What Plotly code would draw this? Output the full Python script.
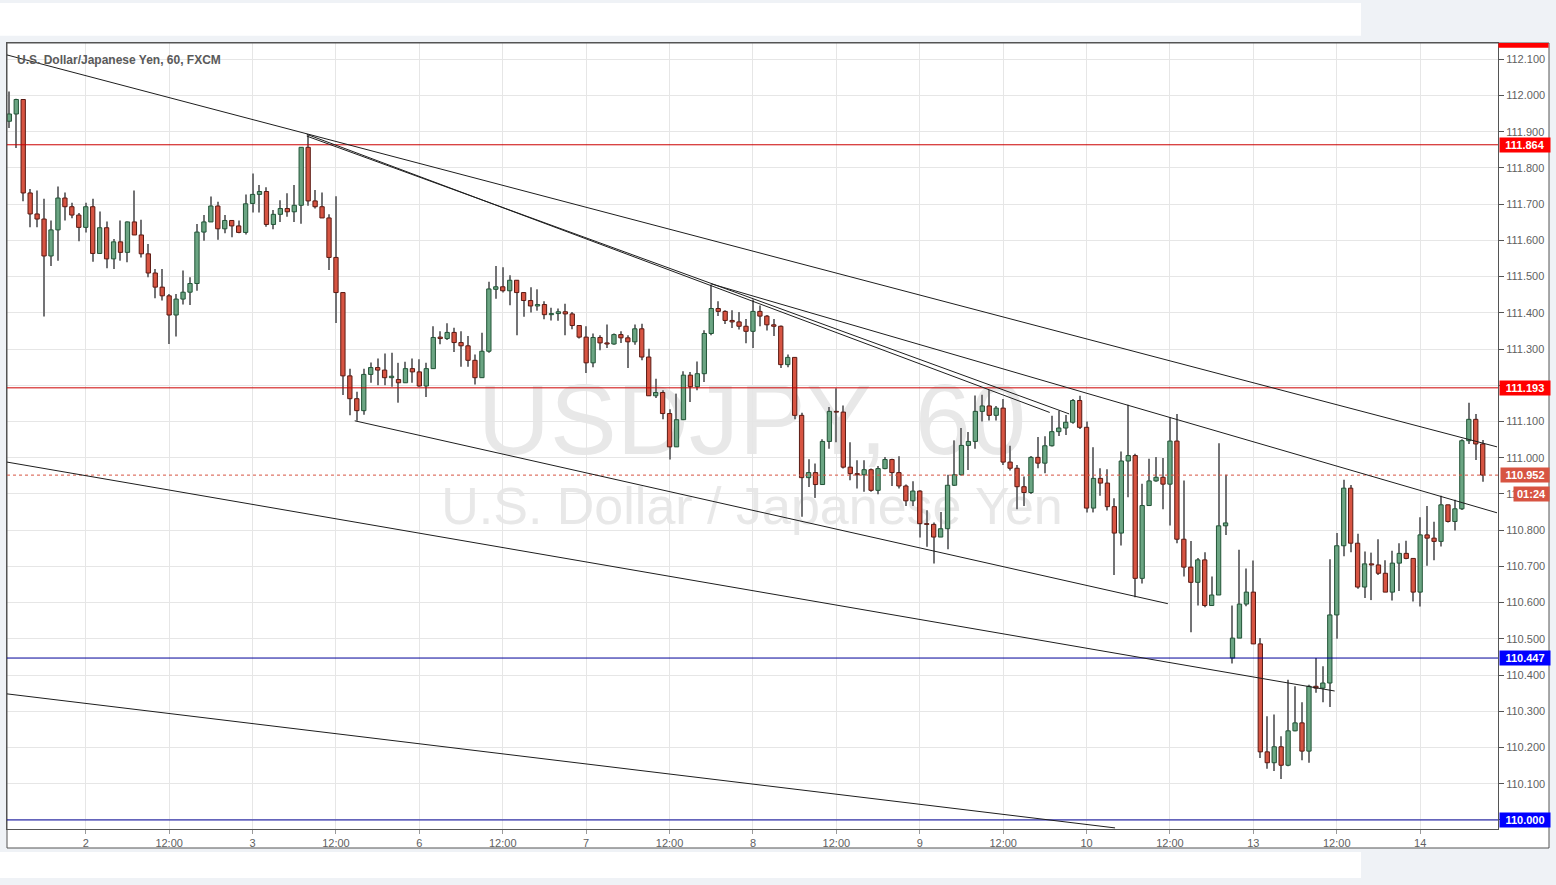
import plotly.graph_objects as go

# ---------------- data (hourly USD/JPY candles) ----------------
candle_open = [
    111.929, 111.949, 111.989, 111.731, 111.673, 111.659, 111.557, 111.629, 111.717, 111.693,
    111.670, 111.636, 111.693, 111.564, 111.635, 111.549, 111.596, 111.567, 111.651, 111.615,
    111.563, 111.510, 111.471, 111.447, 111.394, 111.438, 111.457, 111.481, 111.623, 111.651,
    111.695, 111.632, 111.655, 111.640, 111.622, 111.702, 111.727, 111.735, 111.644, 111.672,
    111.688, 111.679, 111.697, 111.857, 111.709, 111.693, 111.662, 111.553, 111.456, 111.226,
    111.163, 111.130, 111.230, 111.249, 111.242, 111.221, 111.216, 111.207, 111.246, 111.237,
    111.198, 111.246, 111.333, 111.329, 111.346, 111.318, 111.309, 111.269, 111.221, 111.294,
    111.465, 111.472, 111.461, 111.490, 111.456, 111.434, 111.419, 111.423, 111.395, 111.398,
    111.403, 111.397, 111.365, 111.333, 111.262, 111.332, 111.317, 111.314, 111.340, 111.331,
    111.320, 111.356, 111.278, 111.171, 111.180, 111.122, 111.030, 111.105, 111.228, 111.196,
    111.232, 111.343, 111.412, 111.404, 111.379, 111.375, 111.363, 111.349, 111.404, 111.391,
    111.367, 111.363, 111.257, 111.277, 111.117, 110.945, 110.959, 110.926, 111.045, 111.128,
    111.126, 110.974, 110.956, 110.953, 110.967, 110.910, 110.970, 110.995, 110.959, 110.922,
    110.881, 110.908, 110.818, 110.816, 110.781, 110.804, 110.924, 110.953, 111.034, 111.045,
    111.128, 111.143, 111.117, 111.137, 110.988, 110.971, 110.920, 110.904, 111.001, 110.985,
    111.033, 111.072, 111.082, 111.098, 111.158, 111.084, 110.861, 110.943, 110.930, 110.865,
    110.792, 110.991, 111.006, 110.667, 110.868, 110.936, 110.946, 110.927, 111.046, 110.775,
    110.698, 110.656, 110.718, 110.592, 110.621, 110.812, 110.447, 110.502, 110.596, 110.629,
    110.486, 110.188, 110.158, 110.202, 110.151, 110.246, 110.268, 110.190, 110.369, 110.364,
    110.378, 110.566, 110.757, 110.916, 110.764, 110.643, 110.707, 110.704, 110.681, 110.629,
    110.709, 110.736, 110.722, 110.629, 110.787, 110.778, 110.769, 110.870, 110.824, 110.859,
    111.047, 111.106, 111.038,
]
candle_high = [
    112.011, 111.991, 111.989, 111.742, 111.738, 111.715, 111.655, 111.749, 111.732, 111.704,
    111.676, 111.704, 111.715, 111.680, 111.652, 111.604, 111.655, 111.652, 111.738, 111.657,
    111.590, 111.521, 111.521, 111.452, 111.452, 111.517, 111.498, 111.645, 111.670, 111.721,
    111.707, 111.670, 111.655, 111.655, 111.727, 111.785, 111.753, 111.747, 111.684, 111.711,
    111.730, 111.753, 111.857, 111.891, 111.739, 111.732, 111.672, 111.722, 111.456, 111.246,
    111.182, 111.246, 111.263, 111.274, 111.288, 111.290, 111.262, 111.265, 111.274, 111.272,
    111.262, 111.363, 111.349, 111.371, 111.359, 111.349, 111.336, 111.285, 111.345, 111.486,
    111.529, 111.526, 111.504, 111.490, 111.456, 111.471, 111.465, 111.432, 111.414, 111.412,
    111.425, 111.402, 111.366, 111.363, 111.343, 111.338, 111.368, 111.343, 111.349, 111.338,
    111.368, 111.370, 111.301, 111.218, 111.186, 111.134, 111.177, 111.239, 111.237, 111.266,
    111.352, 111.478, 111.432, 111.407, 111.407, 111.402, 111.383, 111.437, 111.420, 111.394,
    111.383, 111.365, 111.285, 111.277, 111.124, 110.996, 110.984, 111.051, 111.140, 111.192,
    111.144, 111.043, 110.993, 110.993, 110.970, 110.977, 111.002, 110.997, 111.004, 110.926,
    110.935, 110.910, 110.855, 110.821, 110.850, 110.953, 111.048, 111.082, 111.071, 111.172,
    111.174, 111.187, 111.143, 111.162, 111.033, 110.980, 110.948, 111.005, 111.057, 111.059,
    111.116, 111.130, 111.118, 111.162, 111.171, 111.100, 111.029, 110.971, 110.968, 110.888,
    111.017, 111.146, 111.011, 110.928, 110.997, 111.002, 110.999, 111.112, 111.121, 110.937,
    110.770, 110.723, 110.739, 110.672, 111.040, 110.953, 110.592, 110.746, 110.694, 110.716,
    110.502, 110.286, 110.291, 110.231, 110.387, 110.369, 110.325, 110.373, 110.447, 110.424,
    110.720, 110.792, 110.939, 110.925, 110.790, 110.741, 110.738, 110.775, 110.717, 110.743,
    110.764, 110.771, 110.722, 110.836, 110.867, 110.823, 110.895, 110.870, 110.884, 111.051,
    111.152, 111.121, 111.049,
]
candle_low = [
    111.910, 111.855, 111.708, 111.636, 111.636, 111.390, 111.529, 111.544, 111.655, 111.661,
    111.598, 111.622, 111.541, 111.563, 111.523, 111.521, 111.544, 111.540, 111.615, 111.553,
    111.498, 111.440, 111.434, 111.314, 111.335, 111.423, 111.422, 111.461, 111.599, 111.651,
    111.602, 111.620, 111.609, 111.620, 111.616, 111.677, 111.677, 111.638, 111.631, 111.651,
    111.665, 111.651, 111.646, 111.696, 111.688, 111.662, 111.518, 111.372, 111.173, 111.117,
    111.102, 111.119, 111.207, 111.200, 111.200, 111.196, 111.152, 111.207, 111.207, 111.196,
    111.168, 111.246, 111.313, 111.325, 111.292, 111.251, 111.251, 111.202, 111.221, 111.290,
    111.439, 111.456, 111.421, 111.338, 111.389, 111.401, 111.406, 111.382, 111.379, 111.378,
    111.338, 111.355, 111.329, 111.234, 111.250, 111.297, 111.303, 111.312, 111.317, 111.248,
    111.312, 111.269, 111.171, 111.165, 111.106, 110.995, 111.030, 111.105, 111.154, 111.186,
    111.209, 111.338, 111.391, 111.369, 111.358, 111.354, 111.316, 111.303, 111.363, 111.351,
    111.336, 111.248, 111.250, 111.106, 110.837, 110.919, 110.889, 110.926, 111.025, 111.043,
    110.970, 110.938, 110.915, 110.906, 110.906, 110.899, 110.968, 110.922, 110.915, 110.867,
    110.867, 110.780, 110.754, 110.708, 110.781, 110.747, 110.922, 110.951, 110.966, 111.025,
    111.100, 111.103, 111.103, 110.980, 110.965, 110.858, 110.867, 110.900, 110.971, 110.957,
    111.031, 111.060, 111.063, 111.094, 111.079, 110.849, 110.849, 110.895, 110.854, 110.676,
    110.758, 110.891, 110.615, 110.653, 110.868, 110.934, 110.858, 110.813, 110.764, 110.672,
    110.518, 110.592, 110.587, 110.592, 110.621, 110.787, 110.432, 110.502, 110.590, 110.486,
    110.171, 110.141, 110.135, 110.113, 110.148, 110.245, 110.165, 110.158, 110.351, 110.325,
    110.312, 110.500, 110.728, 110.739, 110.638, 110.613, 110.607, 110.676, 110.629, 110.606,
    110.632, 110.720, 110.603, 110.589, 110.702, 110.717, 110.755, 110.821, 110.799, 110.856,
    111.038, 110.994, 110.934,
]
candle_close = [
    111.949, 111.989, 111.731, 111.673, 111.659, 111.557, 111.629, 111.717, 111.693, 111.670,
    111.636, 111.693, 111.564, 111.635, 111.549, 111.596, 111.567, 111.651, 111.615, 111.563,
    111.510, 111.471, 111.447, 111.394, 111.438, 111.457, 111.481, 111.623, 111.651, 111.695,
    111.632, 111.655, 111.640, 111.622, 111.701, 111.727, 111.735, 111.644, 111.672, 111.688,
    111.679, 111.697, 111.857, 111.709, 111.693, 111.662, 111.553, 111.456, 111.226, 111.163,
    111.130, 111.230, 111.249, 111.242, 111.221, 111.225, 111.207, 111.246, 111.237, 111.198,
    111.246, 111.332, 111.329, 111.346, 111.318, 111.309, 111.269, 111.221, 111.294, 111.466,
    111.472, 111.461, 111.490, 111.456, 111.434, 111.419, 111.423, 111.395, 111.398, 111.403,
    111.397, 111.365, 111.333, 111.262, 111.332, 111.317, 111.314, 111.340, 111.331, 111.320,
    111.356, 111.278, 111.171, 111.180, 111.122, 111.030, 111.105, 111.228, 111.196, 111.232,
    111.343, 111.412, 111.404, 111.379, 111.375, 111.363, 111.349, 111.404, 111.391, 111.367,
    111.363, 111.257, 111.277, 111.117, 110.945, 110.959, 110.926, 111.045, 111.128, 111.126,
    110.974, 110.956, 110.953, 110.967, 110.910, 110.970, 110.995, 110.959, 110.922, 110.881,
    110.908, 110.818, 110.816, 110.781, 110.804, 110.924, 110.953, 111.034, 111.045, 111.128,
    111.143, 111.117, 111.137, 110.988, 110.971, 110.920, 110.904, 111.001, 110.985, 111.033,
    111.072, 111.082, 111.098, 111.158, 111.084, 110.861, 110.943, 110.930, 110.865, 110.792,
    110.991, 111.006, 110.667, 110.868, 110.936, 110.946, 110.927, 111.046, 110.775, 110.698,
    110.656, 110.718, 110.592, 110.621, 110.812, 110.820, 110.502, 110.596, 110.629, 110.486,
    110.188, 110.158, 110.202, 110.151, 110.246, 110.268, 110.190, 110.369, 110.364, 110.378,
    110.566, 110.757, 110.916, 110.764, 110.643, 110.707, 110.704, 110.681, 110.629, 110.709,
    110.736, 110.722, 110.629, 110.787, 110.778, 110.769, 110.870, 110.824, 110.859, 111.047,
    111.106, 111.038, 110.952,
]

x_tick_index = [11, 23, 35, 47, 59, 71, 83, 95, 107, 119, 131, 143, 155, 167, 179, 191, 203]
x_tick_labels = ["2", "12:00", "3", "12:00", "6", "12:00", "7", "12:00", "8", "12:00",
                 "9", "12:00", "10", "12:00", "13", "12:00", "14"]

level_prices = [111.864, 111.193, 110.447, 110.000]
last_price = 110.952
countdown_text = "01:24"
chart_title = "U.S. Dollar/Japanese Yen, 60, FXCM"
watermark_main = "USDJPY, 60"
watermark_sub = "U.S. Dollar / Japanese Yen"

# hand-drawn trend lines: (bar index, price) -> (bar index, price)
trend_lines = [
    (-0.33, 112.112, 214.06, 111.030),
    (42.8, 111.893, 149.7, 111.125),
    (42.8, 111.888, 152.5, 111.121),
    (101.0, 111.480, 214.06, 110.848),
    (49.7, 111.102, 166.7, 110.597),
    (-0.33, 110.988, 190.7, 110.356),
    (-0.33, 110.348, 159.1, 109.978),
]

# ---------------- styles / layout constants ----------------
UP_FILL, UP_LINE = "#6ba583", "#225437"
DOWN_FILL, DOWN_LINE = "#d75442", "#5b1a13"
WICK = "#737375"
LEVEL_LINE_COLORS = ["#cc0000", "#cc0000", "#000099", "#000099"]
LEVEL_BOX_COLORS = ["#ff0000", "#ff0000", "#0000ff", "#0000ff"]
AXIS_COL = "#555555"
GRID_COL = "#e6e6e6"
TEXT_COL = "#5f5f5f"
PAGE_BG = "#eff2f6"
FONT = "Liberation Sans, Arial, sans-serif"

W, H = 1556, 885
PX_L, PX_R, PX_T, PX_B = 7, 1498, 43, 829
x_range = [-0.331, 214.2]
y_range = [109.975, 112.145]


def paper_x(px):
    return (px - PX_L) / (PX_R - PX_L)


def paper_y(py):
    return (PX_B - py) / (PX_B - PX_T)


n = len(candle_open)
idx = list(range(n))
is_up = [c >= o for o, c in zip(candle_open, candle_close)]
body_base = [min(o, c) for o, c in zip(candle_open, candle_close)]
body_len = [max(abs(c - o), 0.0012) for o, c in zip(candle_open, candle_close)]
body_fill = [UP_FILL if u else DOWN_FILL for u in is_up]
body_line = [UP_LINE if u else DOWN_LINE for u in is_up]
wick_len = [h - l for h, l in zip(candle_high, candle_low)]

fig = go.Figure()
fig.add_trace(go.Bar(x=idx, y=wick_len, base=candle_low, width=0.15,
                     marker=dict(color=WICK, line=dict(width=0)),
                     hoverinfo="skip", showlegend=False))
fig.add_trace(go.Bar(x=idx, y=body_len, base=body_base, width=0.62,
                     marker=dict(color=body_fill, line=dict(color=body_line, width=1)),
                     hoverinfo="skip", showlegend=False))

shapes = []
# page panels (white areas on light grey page)
shapes.append(dict(type="rect", xref="paper", yref="paper", layer="below",
                   x0=paper_x(7), x1=paper_x(1549), y0=paper_y(848), y1=paper_y(43),
                   fillcolor="white", line=dict(width=0)))
shapes.append(dict(type="rect", xref="paper", yref="paper", layer="below",
                   x0=paper_x(0), x1=paper_x(1361), y0=paper_y(35.7), y1=paper_y(3),
                   fillcolor="white", line=dict(width=0)))
shapes.append(dict(type="rect", xref="paper", yref="paper", layer="below",
                   x0=paper_x(0), x1=paper_x(1361), y0=paper_y(878), y1=paper_y(852),
                   fillcolor="white", line=dict(width=0)))
# watermark (below the candles)
for txt, cy, size, half_h in [(watermark_main, 410, 100, 60), (watermark_sub, 501, 52, 32)]:
    shapes.append(dict(type="rect", xref="paper", yref="paper", layer="below",
                       x0=paper_x(352), x1=paper_x(1152), y0=paper_y(cy + half_h), y1=paper_y(cy - half_h),
                       line=dict(width=0), fillcolor="rgba(0,0,0,0)",
                       label=dict(text=txt, textposition="middle center",
                                  font=dict(family=FONT, size=size, color="#e8e8e8"))))
# outer frame
shapes.append(dict(type="rect", xref="paper", yref="paper", layer="above",
                   x0=paper_x(7), x1=paper_x(1549), y0=paper_y(848), y1=paper_y(43),
                   line=dict(color=AXIS_COL, width=1)))
# clipped red label at the top of the price scale
shapes.append(dict(type="rect", xref="paper", yref="paper", layer="above",
                   x0=paper_x(1498.5), x1=paper_x(1548.5), y0=paper_y(47.7), y1=paper_y(43),
                   fillcolor="#ff0000", line=dict(width=0)))
# horizontal levels
for p, col in zip(level_prices, LEVEL_LINE_COLORS):
    shapes.append(dict(type="line", xref="paper", yref="y", x0=0, x1=1, y0=p, y1=p,
                       layer="above", line=dict(color=col, width=1)))
shapes.append(dict(type="line", xref="paper", yref="y", x0=0, x1=1, y0=last_price, y1=last_price,
                   layer="above", line=dict(color=DOWN_FILL, width=1, dash="dot")))
# trend lines
for x0, y0, x1, y1 in trend_lines:
    shapes.append(dict(type="line", xref="x", yref="y", x0=x0, y0=y0, x1=x1, y1=y1,
                       layer="above", line=dict(color="#1e1e1e", width=1)))

annotations = []
annotations.append(dict(text="<b>" + chart_title + "</b>", xref="paper", yref="paper",
                        x=paper_x(15), y=paper_y(60), xanchor="left", yanchor="middle",
                        showarrow=False, font=dict(family=FONT, size=12, color="#5a5a5a")))
for p, col in zip(level_prices, LEVEL_BOX_COLORS):
    annotations.append(dict(text="<b>%.3f</b>" % p, xref="paper", yref="y",
                            x=paper_x(1498.5), y=p, xanchor="left", yanchor="middle",
                            showarrow=False, bgcolor=col, borderpad=1, width=48, align="center",
                            font=dict(family=FONT, size=11, color="white")))
annotations.append(dict(text="<b>%.3f</b>" % last_price, xref="paper", yref="y",
                        x=paper_x(1500), y=last_price, xanchor="left", yanchor="middle",
                        showarrow=False, bgcolor=DOWN_FILL, borderpad=1, width=46, align="center",
                        font=dict(family=FONT, size=11, color="white")))
annotations.append(dict(text="<b>" + countdown_text + "</b>", xref="paper", yref="paper",
                        x=paper_x(1513), y=paper_y(493.5), xanchor="left", yanchor="middle",
                        showarrow=False, bgcolor=DOWN_FILL, borderpad=1, width=33, align="center",
                        font=dict(family=FONT, size=11, color="white")))

fig.update_layout(
    width=W, height=H, autosize=False,
    margin=dict(l=PX_L, r=W - PX_R, t=PX_T, b=H - PX_B, pad=0),
    paper_bgcolor=PAGE_BG, plot_bgcolor="white",
    showlegend=False, barmode="overlay",
    font=dict(family=FONT, color=TEXT_COL),
    xaxis=dict(range=x_range, tickmode="array", tickvals=x_tick_index, ticktext=x_tick_labels,
               showgrid=True, gridcolor=GRID_COL, gridwidth=1, zeroline=False,
               showline=True, linecolor=AXIS_COL, linewidth=1, mirror=True,
               ticks="outside", ticklen=4, tickcolor="#9a9a9a",
               tickfont=dict(family=FONT, size=11, color=TEXT_COL), fixedrange=True),
    yaxis=dict(side="right", range=y_range, tickmode="linear", tick0=110.0, dtick=0.1,
               tickformat=".3f", showgrid=True, gridcolor=GRID_COL, gridwidth=1, zeroline=False,
               showline=True, linecolor=AXIS_COL, linewidth=1, mirror=True,
               ticks="outside", ticklen=5, tickcolor=AXIS_COL,
               tickfont=dict(family=FONT, size=11, color=TEXT_COL), fixedrange=True),
    shapes=shapes, annotations=annotations,
)

fig.write_html("out.html", config={"displayModeBar": False},
               post_script="document.body.style.margin='0px';document.body.style.overflow='hidden';")
